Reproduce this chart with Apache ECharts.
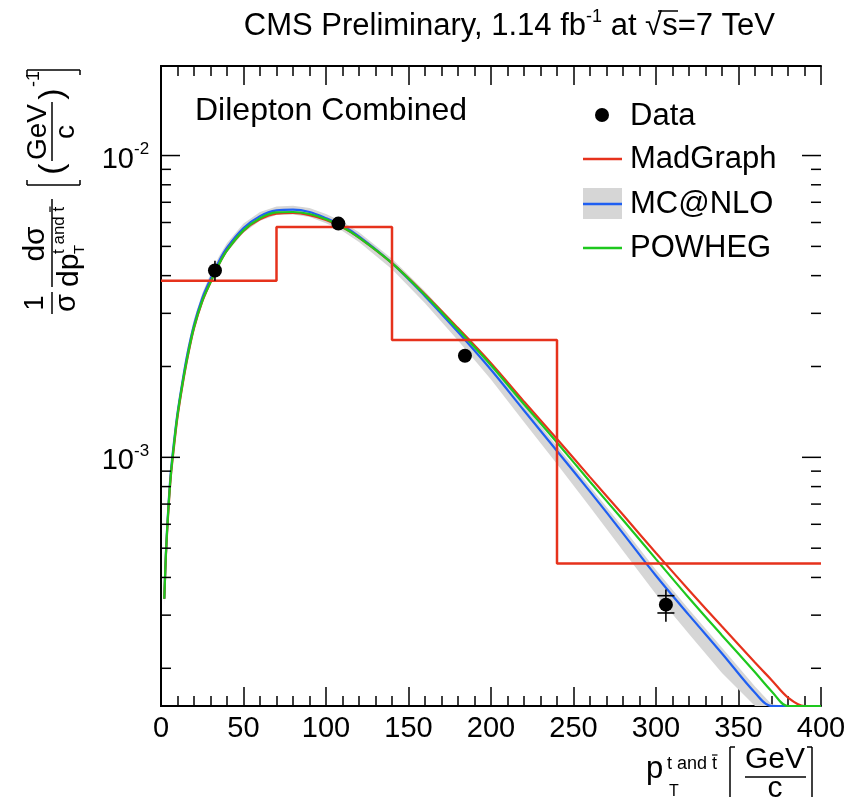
<!DOCTYPE html>
<html>
<head>
<meta charset="utf-8">
<script src="https://cdn.jsdelivr.net/npm/echarts@6/dist/echarts.min.js"></script>
<style>
html, body { margin: 0; padding: 0; background: #fff; }
#main { width: 853px; height: 798px; }
</style>
</head>
<body>
<div id="main"></div>
<script>
// measured points (pT, 1/sigma dsigma/dpT)
var dataX = [32.7, 107.5, 184.2, 306]
var dataY = [4.16e-3, 5.95e-3, 2.17e-3, 3.25e-4]
var dataTotLo = [3.85e-3, 5.75e-3, 2.1e-3, 2.85e-4]
var dataTotHi = [4.48e-3, 6.15e-3, 2.24e-3, 3.65e-4]
var dataStatLo = [4.05e-3, 5.85e-3, 2.13e-3, 3.05e-4]
var dataStatHi = [4.27e-3, 6.05e-3, 2.21e-3, 3.48e-4]

// MadGraph binned prediction
var histEdges = [0, 70, 140, 240, 400]
var histValues = [3.85e-3, 5.8e-3, 2.45e-3, 4.45e-4]

// smooth predictions
var curveX = [2, 3, 4.5, 6, 8, 10, 13, 16, 20, 25, 30, 35, 40, 50, 60, 70, 80, 90, 100, 110, 120, 140, 160, 180, 200, 220, 240, 260, 280, 300, 320, 340, 360, 370, 380, 390, 400]
var madgraph = [3.4e-4, 4.75e-4, 6.7e-4, 8.7e-4, 1.1e-3, 1.36e-3, 1.73e-3, 2.13e-3, 2.68e-3, 3.28e-3, 3.8e-3, 4.35e-3, 4.85e-3, 5.63e-3, 6.15e-3, 6.42e-3, 6.45e-3, 6.35e-3, 6.12e-3, 5.78e-3, 5.35e-3, 4.4e-3, 3.47e-3, 2.68e-3, 2.05e-3, 1.53e-3, 1.15e-3, 8.6e-4, 6.45e-4, 4.82e-4, 3.63e-4, 2.75e-4, 2.09e-4, 1.83e-4, 1.6e-4, 1.5e-4, 1.5e-4]
var mcatnlo = [3.4e-4, 4.85e-4, 6.9e-4, 9.0e-4, 1.14e-3, 1.4e-3, 1.78e-3, 2.2e-3, 2.75e-3, 3.37e-3, 3.9e-3, 4.45e-3, 4.95e-3, 5.75e-3, 6.3e-3, 6.58e-3, 6.62e-3, 6.5e-3, 6.2e-3, 5.85e-3, 5.4e-3, 4.4e-3, 3.42e-3, 2.6e-3, 1.95e-3, 1.43e-3, 1.05e-3, 7.7e-4, 5.6e-4, 4.05e-4, 3.0e-4, 2.24e-4, 1.66e-4, 1.5e-4, 1.5e-4, 1.5e-4, 1.5e-4]
var mcatnloLo = [3.2e-4, 4.6e-4, 6.6e-4, 8.6e-4, 1.09e-3, 1.34e-3, 1.7e-3, 2.1e-3, 2.63e-3, 3.23e-3, 3.75e-3, 4.28e-3, 4.78e-3, 5.55e-3, 6.08e-3, 6.35e-3, 6.38e-3, 6.26e-3, 5.97e-3, 5.62e-3, 5.17e-3, 4.2e-3, 3.24e-3, 2.44e-3, 1.81e-3, 1.31e-3, 9.5e-4, 6.85e-4, 4.9e-4, 3.52e-4, 2.6e-4, 1.93e-4, 1.5e-4, 1.5e-4, 1.5e-4, 1.5e-4, 1.5e-4]
var mcatnloHi = [3.6e-4, 5.1e-4, 7.2e-4, 9.4e-4, 1.19e-3, 1.46e-3, 1.86e-3, 2.3e-3, 2.87e-3, 3.5e-3, 4.05e-3, 4.62e-3, 5.13e-3, 5.95e-3, 6.5e-3, 6.78e-3, 6.82e-3, 6.7e-3, 6.4e-3, 6.03e-3, 5.57e-3, 4.55e-3, 3.55e-3, 2.7e-3, 2.03e-3, 1.49e-3, 1.09e-3, 8.0e-4, 5.85e-4, 4.23e-4, 3.13e-4, 2.34e-4, 1.74e-4, 1.52e-4, 1.5e-4, 1.5e-4, 1.5e-4]
var powheg = [3.4e-4, 4.8e-4, 6.8e-4, 8.8e-4, 1.12e-3, 1.38e-3, 1.75e-3, 2.15e-3, 2.7e-3, 3.3e-3, 3.8e-3, 4.35e-3, 4.85e-3, 5.65e-3, 6.2e-3, 6.48e-3, 6.5e-3, 6.4e-3, 6.15e-3, 5.8e-3, 5.35e-3, 4.4e-3, 3.45e-3, 2.65e-3, 2.02e-3, 1.5e-3, 1.12e-3, 8.3e-4, 6.2e-4, 4.6e-4, 3.42e-4, 2.57e-4, 1.94e-4, 1.68e-4, 1.5e-4, 1.5e-4, 1.5e-4]

// axis ranges and log ticks
var xMin = 0, xMax = 400, xStep = 50
var yMin = 1.5e-4, yMax = 0.0198
var yTickVals = [2e-4, 3e-4, 4e-4, 5e-4, 6e-4, 7e-4, 8e-4, 9e-4, 1e-3, 2e-3, 3e-3, 4e-3, 5e-3, 6e-3, 7e-3, 8e-3, 9e-3, 1e-2]
var yMajorVals = [1e-3, 1e-2]
var yMajorExp = ['-3', '-2']

var FONT = 'Liberation Sans'
var RED = '#e6321c', BLUE = '#1f5ff2', GREEN = '#1ec81e', GREY = '#d6d6d6'

function pairs(xs, ys) {
  return xs.map(function (x, i) { return [x, ys[i]] })
}

var chart = echarts.init(document.getElementById('main'))

var axisLine = { show: true, lineStyle: { color: '#000', width: 2 } }
var xTick = { show: true, inside: true, length: 19, lineStyle: { color: '#000', width: 1.5 } }
var xMinor = { show: true, splitNumber: 5, length: 10, lineStyle: { color: '#000', width: 1.5 } }

function txt(text, x, y, size, align, vAlign) {
  return {
    type: 'text', x: x, y: y,
    style: { text: text, fill: '#000', fontSize: size, fontFamily: FONT, align: align || 'left', verticalAlign: vAlign || 'middle' }
  }
}
function seg(x1, y1, x2, y2, color, w) {
  return { type: 'line', shape: { x1: x1, y1: y1, x2: x2, y2: y2 }, style: { stroke: color || '#000', lineWidth: w || 1.5 } }
}

// y axis title, laid out horizontally then rotated
var yTitle = {
  type: 'group', x: 55, y: 318, rotation: Math.PI / 2,
  children: [
    txt('1', 15, -19, 27, 'center'),
    seg(4, -3, 26, -3),
    txt('σ', 15, 12, 29, 'center'),
    txt('dσ', 74, -19, 30, 'center'),
    seg(31, -3, 119, -3),
    txt('dp', 31, 15, 30),
    txt('t and t', 64, 4, 17),
    seg(106, -5, 111.5, -5, '#000', 1.2),
    txt('T', 64, 25, 15),
    seg(133, -28, 133, 25), seg(133, -28, 138, -28), seg(133, 25, 138, 25),
    txt('(', 149, -2, 34, 'center'),
    txt('GeV', 186, -17, 28, 'center'),
    seg(157, -3, 216, -3),
    txt('c', 186, 11, 28, 'center'),
    txt(')', 224, -2, 34, 'center'),
    txt('-1', 231, -21, 18),
    seg(248, -28, 248, 25), seg(248, -28, 243, -28), seg(248, 25, 243, 25)
  ]
}

var xTitle = {
  type: 'group',
  children: [
    txt('p', 646, 769, 31),
    txt('t and t', 667, 764, 18),
    seg(712, 755, 717.5, 755, '#000', 1.2),
    txt('T', 669, 792, 16),
    seg(730, 747, 730, 797), seg(730, 747, 735, 747),
    txt('GeV', 775, 760, 30, 'center'),
    seg(745, 777, 806, 777),
    txt('c', 775, 789, 30, 'center'),
    seg(812, 747, 812, 797), seg(812, 747, 807, 747)
  ]
}

var title = {
  type: 'group',
  children: [
    {
      type: 'text', x: 775, y: 26,
      style: {
        text: '{a|CMS Preliminary, 1.14 fb}{s|-1}{a| at √s=7 TeV}',
        align: 'right', verticalAlign: 'middle', fill: '#000',
        rich: {
          a: { fontSize: 31, fontFamily: FONT, lineHeight: 36 },
          s: { fontSize: 18, fontFamily: FONT, lineHeight: 19, verticalAlign: 'top' }
        }
      }
    },
    seg(658, 11, 678, 11, '#000', 1.5)
  ]
}

var legend = {
  type: 'group',
  children: [
    { type: 'circle', shape: { cx: 602, cy: 115, r: 7 }, style: { fill: '#000' } },
    txt('Data', 630, 116, 31),
    seg(583, 159, 622, 159, RED, 2.5),
    txt('MadGraph', 630, 159, 31),
    { type: 'rect', shape: { x: 583, y: 188, width: 39, height: 31 }, style: { fill: GREY } },
    seg(583, 204, 622, 204, BLUE, 2.5),
    txt('MC@NLO', 630, 204, 31),
    seg(583, 248, 622, 248, GREEN, 2.5),
    txt('POWHEG', 630, 248, 31)
  ]
}

var options = {
  animation: false,
  backgroundColor: '#fff',
  grid: { left: 161, right: 32, top: 66, bottom: 92 },
  xAxis: [
    {
      type: 'value', position: 'bottom', min: xMin, max: xMax, interval: xStep,
      axisLine: axisLine, axisTick: xTick, minorTick: xMinor,
      splitLine: { show: false },
      axisLabel: { color: '#000', fontSize: 29, fontFamily: FONT, margin: 8 }
    },
    {
      type: 'value', position: 'top', min: xMin, max: xMax, interval: xStep,
      axisLine: axisLine, axisTick: xTick, minorTick: xMinor,
      splitLine: { show: false }, axisLabel: { show: false }
    }
  ],
  yAxis: [
    {
      type: 'log', logBase: 10, position: 'left', min: yMin, max: yMax,
      axisLine: axisLine, axisTick: { show: false }, axisLabel: { show: false },
      splitLine: { show: false }
    },
    {
      type: 'log', logBase: 10, position: 'right', min: yMin, max: yMax,
      axisLine: axisLine, axisTick: { show: false }, axisLabel: { show: false },
      splitLine: { show: false }
    }
  ],
  graphic: [title, yTitle, xTitle, legend, txt('Dilepton Combined', 195, 111, 32)],
  series: [
    {
      // MC@NLO uncertainty band
      type: 'custom', name: 'MC@NLO band', clip: true, z: 1,
      data: curveX.map(function (x, i) { return [x, mcatnloLo[i], mcatnloHi[i]] }),
      encode: { x: 0, y: [1, 2] },
      renderItem: function (params, api) {
        if (params.dataIndex !== 0) return null
        var pts = []
        for (var i = 0; i < curveX.length; i++) pts.push(api.coord([curveX[i], mcatnloHi[i]]))
        for (var j = curveX.length - 1; j >= 0; j--) pts.push(api.coord([curveX[j], mcatnloLo[j]]))
        return { type: 'polygon', shape: { points: pts }, style: { fill: GREY } }
      }
    },
    {
      type: 'line', name: 'MC@NLO', data: pairs(curveX, mcatnlo), showSymbol: false,
      smooth: 0.35, z: 3,
      lineStyle: { color: BLUE, width: 2.2 }
    },
    {
      type: 'line', name: 'MadGraph curve', data: pairs(curveX, madgraph), showSymbol: false,
      smooth: 0.35, z: 3,
      lineStyle: { color: RED, width: 2.2 }
    },
    {
      type: 'line', name: 'POWHEG', data: pairs(curveX, powheg), showSymbol: false,
      smooth: 0.35, z: 4,
      lineStyle: { color: GREEN, width: 2.2 }
    },
    {
      type: 'line', name: 'MadGraph', step: 'end', showSymbol: false, z: 5,
      data: histEdges.map(function (e, i) { return [e, histValues[Math.min(i, histValues.length - 1)]] }),
      lineStyle: { color: RED, width: 2.5 }
    },
    {
      // data error bars
      type: 'custom', name: 'errors', z: 6,
      data: pairs(dataX, dataY),
      renderItem: function (params, api) {
        var i = params.dataIndex
        var c = api.coord([dataX[i], dataY[i]])
        var lo = api.coord([dataX[i], dataTotLo[i]])
        var hi = api.coord([dataX[i], dataTotHi[i]])
        var kids = [seg(c[0], lo[1], c[0], hi[1], '#000', 1.6)]
        ;[dataStatLo[i], dataStatHi[i]].forEach(function (v) {
          var p = api.coord([dataX[i], v])
          if (Math.abs(p[1] - c[1]) > 7) kids.push(seg(c[0] - 8.5, p[1], c[0] + 8.5, p[1], '#000', 1.6))
        })
        return { type: 'group', children: kids }
      }
    },
    {
      type: 'scatter', name: 'Data', data: pairs(dataX, dataY), symbolSize: 14, z: 7,
      itemStyle: { color: '#000', opacity: 1 }
    },
    {
      // log y ticks on both sides and decade labels
      type: 'custom', name: 'yticks', z: 8, silent: true,
      data: yTickVals.map(function (v) { return [xMin, v] }),
      renderItem: function (params, api) {
        var v = yTickVals[params.dataIndex]
        var l = api.coord([xMin, v])
        var r = api.coord([xMax, v])
        var k = yMajorVals.indexOf(v)
        var len = k >= 0 ? 19 : 10
        var kids = [seg(l[0], l[1], l[0] + len, l[1]), seg(r[0] - len, r[1], r[0], r[1])]
        if (k >= 0) {
          kids.push(txt('10', l[0] - 27, l[1] + 4, 29, 'right'))
          kids.push(txt(yMajorExp[k], l[0] - 27, l[1] - 6, 17, 'left'))
        }
        return { type: 'group', children: kids }
      }
    }
  ]
}

chart.setOption(options, true)
</script>
</body>
</html>
